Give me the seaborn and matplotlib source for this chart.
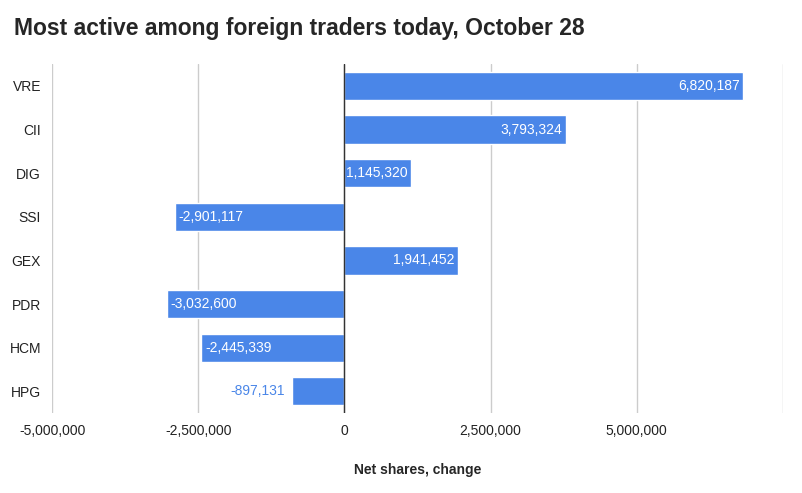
import matplotlib
matplotlib.use("Agg")
import matplotlib.pyplot as plt
import seaborn as sns
import pandas as pd

tickers = ["VRE", "CII", "DIG", "SSI", "GEX", "PDR", "HCM", "HPG"]
net_shares = [6820187, 3793324, 1145320, -2901117, 1941452, -3032600, -2445339, -897131]
xticks = [-5000000, -2500000, 0, 2500000, 5000000]

df = pd.DataFrame({"ticker": tickers, "shares": net_shares})

sns.set_style("white")
plt.rcParams["font.family"] = ["Liberation Sans", "DejaVu Sans"]

fig = plt.figure(figsize=(8.02, 4.93), dpi=100)
ax = fig.add_axes([0.065, 0.162, 0.911, 0.708])
bar_color = "#4a86e8"
sns.barplot(data=df, x="shares", y="ticker", orient="h", color=bar_color,
            width=0.65, saturation=1, ax=ax)

ax.set_xlim(-5000000, 7500000)
ax.set_xticks(xticks + [7500000])
ax.set_xticklabels([f"{v:,}" for v in xticks] + [""], fontsize=10, color="#222222")
ax.tick_params(axis="y", labelsize=10, colors="#222222", length=0, pad=8)
ax.tick_params(axis="x", length=0, pad=8)
ax.grid(axis="x", color="#cccccc", linewidth=1)
ax.set_axisbelow(True)
ax.axvline(0, color="#333333", linewidth=1)
for s in ax.spines.values():
    s.set_visible(False)
ax.set_ylabel("")
ax.set_xlabel("Net shares, change", fontsize=10, fontweight="bold", labelpad=18)

for i, v in enumerate(net_shares):
    label = f"{v:,}"
    if abs(v) < 1000000:
        ax.text(v - 120000, i, label, ha="right", va="center", fontsize=10, color=bar_color)
    elif v > 0:
        ax.text(v - 60000, i, label, ha="right", va="center", fontsize=10, color="white")
    else:
        ax.text(v + 60000, i, label, ha="left", va="center", fontsize=10, color="white")

fig.text(0.017, 0.943, "Most active among foreign traders today, October 28",
         fontsize=16.5, fontweight="bold", va="center", ha="left")

fig.savefig("out.png", dpi=100)
